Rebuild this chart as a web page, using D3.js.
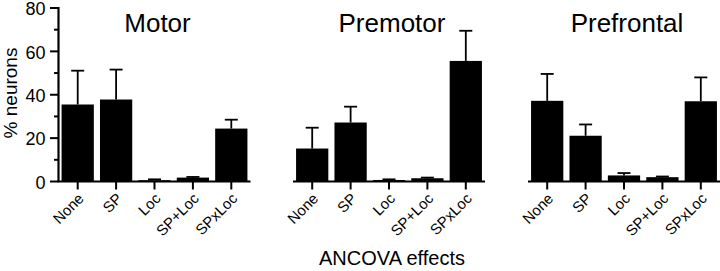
<!DOCTYPE html>
<html>
<head>
<meta charset="utf-8">
<script src="https://cdn.jsdelivr.net/npm/d3@7"></script>
<style>
  body { margin: 0; background: #fff; }
  text { font-family: "Liberation Sans", Arial, Helvetica, sans-serif; fill: #000; }
</style>
</head>
<body>
<div id="graphic"></div>
<script>
// Data
var categories = ['None', 'SP', 'Loc', 'SP+Loc', 'SPxLoc'];
var panelTitles = ['Motor', 'Premotor', 'Prefrontal'];
var motorValues = [35.5, 37.8, 0.6, 1.8, 24.4];
var motorErrors = [15.6, 13.8, 0.4, 0.3, 4.1];
var premotorValues = [15.2, 27.2, 0.7, 1.5, 55.6];
var premotorErrors = [9.6, 7.3, 0.3, 0.3, 13.9];
var prefrontalValues = [37.2, 21.1, 2.8, 2.0, 37.0];
var prefrontalErrors = [12.4, 5.2, 1.1, 0.3, 11.0];
var yTicks = [0, 20, 40, 60, 80];

var panels = [
  { title: panelTitles[0], values: motorValues, errors: motorErrors },
  { title: panelTitles[1], values: premotorValues, errors: premotorErrors },
  { title: panelTitles[2], values: prefrontalValues, errors: prefrontalErrors }
];

var width = 720;
var height = 271;
var panelStarts = [58.5, 293, 528];
var panelWidth = 192;
var axisY = 181.5;

var svg = d3.select('#graphic')
  .append('svg')
  .attr('width', width)
  .attr('height', height);

var yScale = d3.scaleLinear()
  .domain([0, 80])
  .range([axisY, 8]);

// Y axis (only on first panel)
var yAxis = svg.append('g')
  .attr('transform', 'translate(' + panelStarts[0] + ',0)');

yAxis.append('line')
  .attr('x1', 0).attr('x2', 0)
  .attr('y1', yScale(80) - 1).attr('y2', yScale(0))
  .attr('stroke', '#000')
  .attr('stroke-width', 2.2);

yAxis.selectAll('.minor')
  .data(d3.range(10, 80, 20))
  .enter().append('line')
  .attr('x1', -4.5).attr('x2', 0)
  .attr('y1', function (d) { return yScale(d); })
  .attr('y2', function (d) { return yScale(d); })
  .attr('stroke', '#000')
  .attr('stroke-width', 2);

yAxis.selectAll('.major')
  .data(yTicks)
  .enter().append('line')
  .attr('x1', -8.5).attr('x2', 0)
  .attr('y1', function (d) { return yScale(d); })
  .attr('y2', function (d) { return yScale(d); })
  .attr('stroke', '#000')
  .attr('stroke-width', 2);

yAxis.selectAll('.ylabel')
  .data(yTicks)
  .enter().append('text')
  .attr('x', -13)
  .attr('y', function (d) { return yScale(d); })
  .attr('dy', '0.4em')
  .attr('text-anchor', 'end')
  .style('font-size', '18px')
  .text(function (d) { return d; });

svg.append('text')
  .attr('transform', 'translate(17,93) rotate(-90)')
  .attr('text-anchor', 'middle')
  .style('font-size', '19px')
  .text('% neurons');

panels.forEach(function (panel, i) {
  var x0 = panelStarts[i];
  var xScale = d3.scaleBand()
    .domain(categories)
    .range([x0, x0 + panelWidth])
    .paddingInner(0.16)
    .paddingOuter(0.08);

  var g = svg.append('g');

  // bars
  g.selectAll('.bar')
    .data(categories)
    .enter().append('rect')
    .attr('x', function (d) { return xScale(d); })
    .attr('width', xScale.bandwidth())
    .attr('y', function (d, j) { return yScale(panel.values[j]); })
    .attr('height', function (d, j) { return axisY - yScale(panel.values[j]); })
    .attr('fill', '#000');

  // error bars
  var cx = function (d) { return xScale(d) + xScale.bandwidth() / 2; };
  g.selectAll('.err')
    .data(categories)
    .enter().append('line')
    .attr('x1', cx).attr('x2', cx)
    .attr('y1', function (d, j) { return yScale(panel.values[j]); })
    .attr('y2', function (d, j) { return yScale(panel.values[j] + panel.errors[j]); })
    .attr('stroke', '#000')
    .attr('stroke-width', 1.8);

  g.selectAll('.cap')
    .data(categories)
    .enter().append('line')
    .attr('x1', function (d) { return cx(d) - 6.5; })
    .attr('x2', function (d) { return cx(d) + 6.5; })
    .attr('y1', function (d, j) { return yScale(panel.values[j] + panel.errors[j]); })
    .attr('y2', function (d, j) { return yScale(panel.values[j] + panel.errors[j]); })
    .attr('stroke', '#000')
    .attr('stroke-width', 1.8);

  // x axis line
  g.append('line')
    .attr('x1', i === 0 ? x0 - 1 : x0).attr('x2', x0 + panelWidth)
    .attr('y1', axisY).attr('y2', axisY)
    .attr('stroke', '#000')
    .attr('stroke-width', 2.2);

  // x ticks
  g.selectAll('.xtick')
    .data(categories)
    .enter().append('line')
    .attr('x1', cx).attr('x2', cx)
    .attr('y1', axisY).attr('y2', axisY + 8)
    .attr('stroke', '#000')
    .attr('stroke-width', 2);

  g.selectAll('.xlabel')
    .data(categories)
    .enter().append('text')
    .attr('transform', function (d) {
      return 'translate(' + (cx(d) + 7) + ',' + (axisY + 18) + ') rotate(-45)';
    })
    .attr('text-anchor', 'end')
    .style('font-size', '15px')
    .text(function (d) { return d; });

  // panel title
  g.append('text')
    .attr('x', x0 + panelWidth / 2 + 3)
    .attr('y', 32)
    .attr('text-anchor', 'middle')
    .style('font-size', '26px')
    .text(panel.title);
});

svg.append('text')
  .attr('x', 392)
  .attr('y', 265)
  .attr('text-anchor', 'middle')
  .style('font-size', '20px')
  .text('ANCOVA effects');
</script>
</body>
</html>
